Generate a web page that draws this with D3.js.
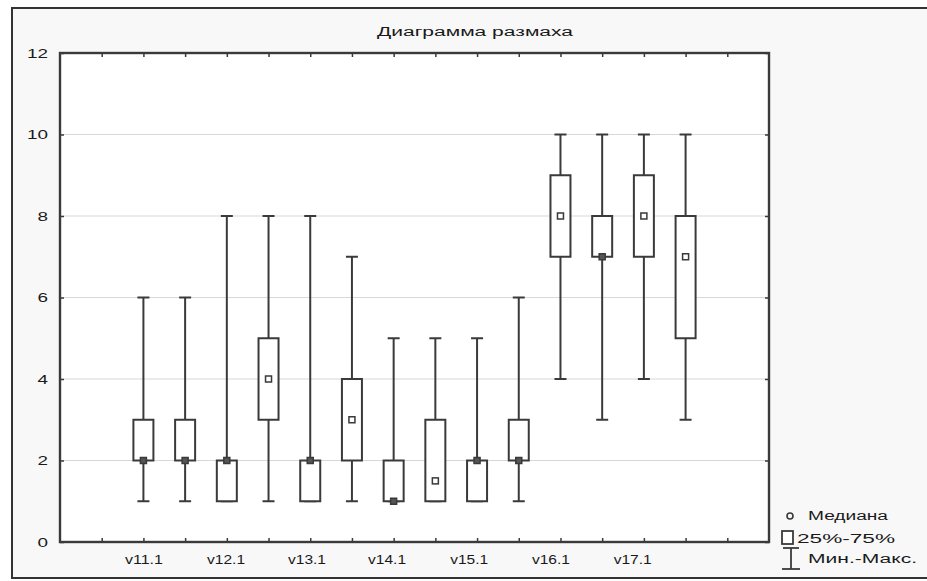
<!DOCTYPE html>
<html><head><meta charset="utf-8">
<script src="https://cdn.jsdelivr.net/npm/d3@7"></script>
<style>html,body{margin:0;padding:0;background:#fff;}svg{display:block;}</style>
</head><body>
<svg id="c" width="927" height="581"></svg>
<script>
const title = "Диаграмма размаха";
const positions = [2,3,4,5,6,7,8,9,10,11,12,13,14,15];
const mins    = [1,1,1,1,1,1,1,1,1,1,4,3,4,3];
const q1s     = [2,2,1,3,1,2,1,1,1,2,7,7,7,5];
const medians = [2,2,2,4,2,3,1,1.5,2,2,8,7,8,7];
const q3s     = [3,3,2,5,2,4,2,3,2,3,9,8,9,8];
const maxs    = [6,6,8,8,8,7,5,5,5,6,10,10,10,10];
const xLabels = ["v11.1","v12.1","v13.1","v14.1","v15.1","v16.1","v17.1"];
const xLabelPos = [2.0,3.97,5.91,7.83,9.8,11.76,13.72];
const xTicks = d3.range(1,17);
const yTicks = [0,2,4,6,8,10,12];
const legendLabels = ["Медиана","25%-75%","Мин.-Макс."];

const svg = d3.select("#c");
const L=60,R=769,T=53,B=542;
const x = d3.scaleLinear().domain([0,17]).range([L,R]);
const y = d3.scaleLinear().domain([0,12]).range([B,T]);
const ink = "#3a3a3a";
const txt = "#1a1a1a";
const font = "Liberation Sans, Arial, sans-serif";

svg.append("rect").attr("x",0).attr("y",0).attr("width",927).attr("height",581).attr("fill","#fff");
svg.append("rect").attr("x",12).attr("y",8).attr("width",930).attr("height",570)
  .attr("fill","#f8f8f8").attr("stroke","#333").attr("stroke-width",2);
svg.append("rect").attr("x",L).attr("y",T).attr("width",R-L).attr("height",B-T).attr("fill","#fff");

// title
svg.append("text").attr("x",475).attr("y",36).attr("text-anchor","middle")
  .attr("font-family",font).attr("font-size",12).attr("fill",txt)
  .attr("textLength",196).attr("lengthAdjust","spacingAndGlyphs").text(title);

// gridlines
svg.append("g").selectAll("line").data(yTicks.filter(v=>v>0&&v<12)).join("line")
  .attr("x1",L).attr("x2",R).attr("y1",d=>y(d)).attr("y2",d=>y(d))
  .attr("stroke","#d8d8d8").attr("stroke-width",1.2);

// axes
const yAxis = d3.axisLeft(y).tickValues(yTicks).tickSize(-4).tickPadding(12).tickFormat(d3.format("d"));
const gy = svg.append("g").attr("transform",`translate(${L},0)`).call(yAxis);
gy.select(".domain").remove();
gy.selectAll("line").attr("stroke",ink).attr("stroke-width",1.5);
gy.selectAll("text").attr("font-family",font).attr("font-size",13).attr("fill",txt)
  .attr("textLength",d=>String(d).length*10.5).attr("lengthAdjust","spacingAndGlyphs");

const gyr = svg.append("g").attr("transform",`translate(${R},0)`)
  .call(d3.axisRight(y).tickValues(yTicks).tickSize(-4).tickFormat(""));
gyr.select(".domain").remove();
gyr.selectAll("line").attr("stroke",ink).attr("stroke-width",1.5);

const gxt = svg.append("g").attr("transform",`translate(0,${T})`)
  .call(d3.axisTop(x).tickValues(xTicks).tickSize(-4).tickFormat(""));
gxt.select(".domain").remove();
gxt.selectAll("line").attr("stroke",ink).attr("stroke-width",1.5);

const gxb = svg.append("g").attr("transform",`translate(0,${B})`)
  .call(d3.axisBottom(x).tickValues(xTicks).tickSize(-4).tickFormat(""));
gxb.select(".domain").remove();
gxb.selectAll("line").attr("stroke",ink).attr("stroke-width",1.5);

const gxl = svg.append("g").attr("transform",`translate(0,${B})`)
  .call(d3.axisBottom(x).tickValues(xLabelPos).tickSize(0).tickPadding(13)
    .tickFormat((d,i)=>xLabels[i]));
gxl.select(".domain").remove();
gxl.selectAll("text").attr("font-family",font).attr("font-size",12).attr("fill",txt)
  .attr("textLength",38).attr("lengthAdjust","spacingAndGlyphs");

// frame
svg.append("rect").attr("x",L).attr("y",T).attr("width",R-L).attr("height",B-T)
  .attr("fill","none").attr("stroke",ink).attr("stroke-width",2.4);

// boxes
const bw=20, cw=12, ms=6;
const data = positions.map((p,i)=>({p,min:mins[i],q1:q1s[i],med:medians[i],q3:q3s[i],max:maxs[i]}));
const g = svg.append("g");
const bx = g.selectAll("g").data(data).join("g");
bx.append("line").attr("x1",d=>x(d.p)).attr("x2",d=>x(d.p)).attr("y1",d=>y(d.max)).attr("y2",d=>y(d.q3))
  .attr("stroke",ink).attr("stroke-width",2);
bx.append("line").attr("x1",d=>x(d.p)).attr("x2",d=>x(d.p)).attr("y1",d=>y(d.q1)).attr("y2",d=>y(d.min))
  .attr("stroke",ink).attr("stroke-width",2);
bx.append("line").attr("x1",d=>x(d.p)-cw/2).attr("x2",d=>x(d.p)+cw/2).attr("y1",d=>y(d.max)).attr("y2",d=>y(d.max))
  .attr("stroke",ink).attr("stroke-width",2);
bx.append("line").attr("x1",d=>x(d.p)-cw/2).attr("x2",d=>x(d.p)+cw/2).attr("y1",d=>y(d.min)).attr("y2",d=>y(d.min))
  .attr("stroke",ink).attr("stroke-width",2);
bx.append("rect").attr("x",d=>x(d.p)-bw/2).attr("width",bw)
  .attr("y",d=>y(d.q3)).attr("height",d=>y(d.q1)-y(d.q3))
  .attr("fill","#fff").attr("stroke",ink).attr("stroke-width",2);
bx.append("rect").attr("x",d=>x(d.p)-ms/2).attr("y",d=>y(d.med)-ms/2).attr("width",ms).attr("height",ms)
  .attr("fill",d=>(d.med===d.q1||d.med===d.q3)?"#555":"#fff").attr("stroke",ink).attr("stroke-width",1.5);

// legend
const lg = svg.append("g").attr("font-family",font).attr("font-size",12).attr("fill",txt);
lg.append("circle").attr("cx",790).attr("cy",516).attr("r",3).attr("fill","none").attr("stroke",ink).attr("stroke-width",1.6);
lg.append("rect").attr("x",782).attr("y",531).attr("width",11).attr("height",13).attr("fill","#fff").attr("stroke",ink).attr("stroke-width",1.8);
lg.append("line").attr("x1",791).attr("x2",791).attr("y1",548).attr("y2",569).attr("stroke",ink).attr("stroke-width",1.8);
lg.append("line").attr("x1",783).attr("x2",799).attr("y1",548).attr("y2",548).attr("stroke",ink).attr("stroke-width",1.8);
lg.append("line").attr("x1",782).attr("x2",800).attr("y1",569).attr("y2",569).attr("stroke",ink).attr("stroke-width",1.8);
const legX=[808,797,808], legY=[520,543,563], legW=[80,98,109];
lg.selectAll("text.l").data(legendLabels).join("text").attr("class","l")
  .attr("x",(d,i)=>legX[i]).attr("y",(d,i)=>legY[i])
  .attr("textLength",(d,i)=>legW[i]).attr("lengthAdjust","spacingAndGlyphs").text(d=>d);
</script>
</body></html>
